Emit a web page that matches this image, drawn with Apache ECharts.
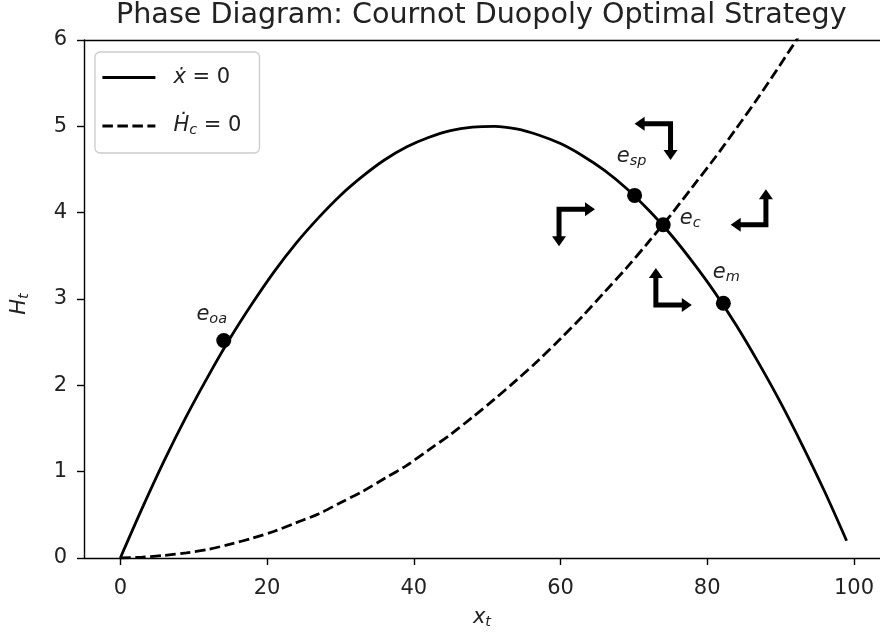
<!DOCTYPE html>
<html>
<head>
<meta charset="utf-8">
<script src="https://cdn.jsdelivr.net/npm/echarts@6/dist/echarts.min.js"></script>
<style>html,body{margin:0;padding:0;background:#fff;}#chart{width:880px;height:637px;}</style>
</head>
<body>
<div id="chart"></div>
<script>
// ---------- data ----------
const curveX = [0,3,6,9,12,15,18,21,24,27,30,33,36,39,42,45,48,51,54,57,60,63,66,69,72,75,78,81,84,87,90,93,96,99];
// x-dot = 0 isocline (solid)
const xdotH = [0,0.58,1.13,1.64,2.11,2.55,2.95,3.32,3.65,3.94,4.20,4.42,4.61,4.76,4.87,4.95,4.99,5.00,4.97,4.90,4.80,4.66,4.49,4.28,4.03,3.75,3.43,3.08,2.69,2.26,1.80,1.30,0.77,0.20];
// H-dot = 0 isocline (dashed)
const hdotH = [0,0.01,0.03,0.06,0.10,0.16,0.23,0.31,0.41,0.51,0.64,0.77,0.92,1.07,1.25,1.43,1.63,1.84,2.06,2.29,2.54,2.80,3.08,3.36,3.66,3.97,4.30,4.63,4.98,5.34,5.72,6.11,6.51,6.92];
// equilibrium points
const pointSub = ['oa','sp','c','m'];
const pointX = [14.1, 70.1, 74.0, 82.2];
const pointY = [2.52, 4.20, 3.86, 2.95];
// phase arrows: corner, horizontal tip, vertical tip
const arrowCorner = [[75.0,5.03],[59.8,4.04],[88.0,3.86],[73.0,2.93]];
const arrowTipH   = [[70.1,5.03],[64.7,4.04],[83.2,3.86],[77.9,2.93]];
const arrowTipV   = [[75.0,4.61],[59.8,3.61],[88.0,4.27],[73.0,3.36]];
// ticks
const xTicks = [0,20,40,60,80,100];
const yTicks = [0,1,2,3,4,5,6];
const titleText = 'Phase Diagram: Cournot Duopoly Optimal Strategy';

// ---------- styling ----------
const FONT = 'DejaVu Sans';
const INK = '#000';
const TXT = '#222';
const labelOffsets = {oa:[-12,-26], sp:[-3,-39], c:[27,-6], m:[3,-31]};

const chart = echarts.init(document.getElementById('chart'), null, {renderer:'canvas'});

const pairs = (xs, ys) => xs.map((x,i) => [x, ys[i]]);

const mathRich = {
  i: {fontFamily: FONT, fontStyle: 'italic', fontSize: 21, color: TXT, lineHeight: 24},
  n: {fontFamily: FONT, fontSize: 21, color: TXT, lineHeight: 24},
  s: {fontFamily: FONT, fontStyle: 'italic', fontSize: 14.5, color: TXT, lineHeight: 24, padding: [9,0,0,0]}
};
const legendRich = {
  i: Object.assign({}, mathRich.i, {padding: [0,0,0,13]}),
  n: mathRich.n,
  s: mathRich.s
};

const axisCommon = {
  axisLine: {show: true, onZero: false, lineStyle: {color: INK, width: 1.4}},
  splitLine: {show: false},
  axisTick: {show: true, inside: false, length: 7, lineStyle: {color: INK, width: 1.4}},
};

const option = {
  animation: false,
  backgroundColor: '#fff',
  title: {
    text: titleText,
    left: 116, top: 1, padding: 0,
    textStyle: {fontFamily: FONT, fontSize: 28.6, fontWeight: 'normal', color: TXT}
  },
  grid: {left: 83, right: 0, top: 40, bottom: 79, containLabel: false},
  legend: {
    orient: 'vertical', left: 95, top: 52,
    padding: [15, 18, 15, 6],
    itemWidth: 53, itemHeight: 14, itemGap: 26,
    backgroundColor: '#fff', borderColor: '#cccccc', borderWidth: 1.3, borderRadius: 5,
    itemStyle: {opacity: 0},
    lineStyle: {width: 2.8},
    data: ['xdot', 'hdot'],
    formatter: name => name === 'xdot' ? '{i|ẋ}{n| = 0}' : '{i|Ḣ}{s|c}{n| = 0}',
    textStyle: {rich: legendRich}
  },
  xAxis: [
    Object.assign({}, axisCommon, {
      type: 'value', min: -4.95, max: 103.55, position: 'bottom',
      axisTick: Object.assign({}, axisCommon.axisTick, {customValues: xTicks}),
      axisLabel: {customValues: xTicks, margin: 20, fontFamily: FONT, fontSize: 21, color: TXT},
      name: '{i|x}{s|t}', nameLocation: 'middle', nameGap: 48,
      nameTextStyle: {rich: mathRich}
    }),
    {type: 'value', min: -4.95, max: 103.55, position: 'top',
     axisLine: {show: true, onZero: false, lineStyle: {color: INK, width: 1.4}},
     axisTick: {show: false}, axisLabel: {show: false}, splitLine: {show: false}}
  ],
  yAxis: [
    Object.assign({}, axisCommon, {
      type: 'value', min: 0, max: 6, interval: 1, position: 'left',
      axisTick: Object.assign({}, axisCommon.axisTick, {customValues: yTicks}),
      axisLabel: {customValues: yTicks, margin: 17, fontFamily: FONT, fontSize: 21, color: TXT},
      name: '{i|H}{s|t}', nameLocation: 'middle', nameGap: 52, nameRotate: 90,
      nameTextStyle: {rich: mathRich, padding: [0, 10, 0, 0]}
    })
  ],
  series: [
    {
      name: 'xdot', type: 'line', data: pairs(curveX, xdotH),
      showSymbol: false, symbol: 'none', smooth: 0.3, clip: true,
      lineStyle: {color: INK, width: 2.8}, itemStyle: {color: INK}, z: 3
    },
    {
      name: 'hdot', type: 'line', data: pairs(curveX, hdotH),
      showSymbol: false, symbol: 'none', smooth: 0.3, clip: true,
      lineStyle: {color: INK, width: 2.8, type: [10.5, 4.5]}, itemStyle: {color: INK}, z: 3
    },
    {
      name: 'points', type: 'scatter', symbol: 'circle', symbolSize: 15, z: 5,
      itemStyle: {color: INK, opacity: 1},
      emphasis: {disabled: true},
      data: pointX.map((x, i) => ({
        value: [x, pointY[i]],
        label: {
          show: true, position: 'inside',
          offset: labelOffsets[pointSub[i]],
          formatter: '{e|e}{s|' + pointSub[i] + '}',
          rich: {
            e: {fontFamily: FONT, fontStyle: 'italic', fontSize: 21, color: TXT, lineHeight: 24},
            s: {fontFamily: FONT, fontStyle: 'italic', fontSize: 14.5, color: TXT, lineHeight: 24, padding: [9,0,0,0]}
          }
        }
      }))
    },
    {
      name: 'arrows', type: 'custom', z: 6, clip: false,
      data: arrowCorner.map((c, i) => [c[0], c[1], arrowTipH[i][0], arrowTipH[i][1], arrowTipV[i][0], arrowTipV[i][1]]),
      encode: {x: [0, 2, 4], y: [1, 3, 5]},
      renderItem: function (params, api) {
        const c = api.coord([api.value(0), api.value(1)]);
        const a = api.coord([api.value(2), api.value(3)]);
        const b = api.coord([api.value(4), api.value(5)]);
        const HL = 10, HW = 14, SW = 5;
        function head(tip) {
          const dx = tip[0] - c[0], dy = tip[1] - c[1];
          const L = Math.sqrt(dx*dx + dy*dy);
          const ux = dx / L, uy = dy / L;
          const bx = tip[0] - ux * HL, by = tip[1] - uy * HL;
          const nx = -uy, ny = ux;
          return {
            base: [tip[0] - ux * HL * 0.6, tip[1] - uy * HL * 0.6],
            poly: [[tip[0], tip[1]], [bx + nx*HW/2, by + ny*HW/2], [bx - nx*HW/2, by - ny*HW/2]]
          };
        }
        const ha = head(a), hb = head(b);
        return {
          type: 'group',
          children: [
            {type: 'polyline', shape: {points: [ha.base, c, hb.base]},
             style: {stroke: INK, lineWidth: SW, fill: null, lineJoin: 'miter', lineCap: 'butt'}},
            {type: 'polygon', shape: {points: ha.poly}, style: {fill: INK}},
            {type: 'polygon', shape: {points: hb.poly}, style: {fill: INK}}
          ]
        };
      }
    }
  ]
};
chart.setOption(option);
</script>
</body>
</html>
